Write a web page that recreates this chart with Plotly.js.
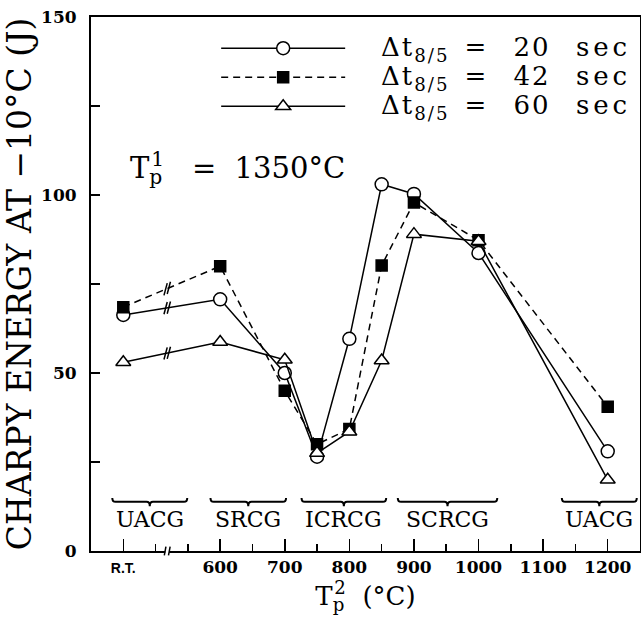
<!DOCTYPE html>
<html><head><meta charset="utf-8">
<script src="https://cdn.plot.ly/plotly-3.0.1.min.js"></script>
<style>html,body{margin:0;padding:0;background:#fff}#chart{width:641px;height:622px}</style>
</head><body><div id="chart"></div>
<script>
// Peak temperature of the second thermal cycle (450 on the axis stands for R.T.)
const temps = [450, 600, 700, 750, 800, 850, 900, 1000, 1200];
const energy20 = [66.3, 70.7, 50.0, 26.5, 59.6, 103.0, 100.3, 83.7, 28.0];
const energy42 = [68.5, 80.0, 45.0, 30.0, 34.3, 80.2, 97.9, 87.3, 40.5];
const energy60 = [53.0, 58.7, 53.7, 27.5, 33.5, 53.5, 89.0, 87.0, 20.0];
const coolingTimes = ['20', '42', '60'];
const xTickVals = [450, 600, 700, 800, 900, 1000, 1100, 1200];
const xTickText = ['<span style="font-family:Liberation Sans;font-weight:bold;font-size:14px">R.T.</span>',
  '600', '700', '800', '900', '1000', '1100', '1200'];
const xMinorVals = [500, 550, 650, 750, 850, 950, 1050, 1150];
const yTickVals = [0, 50, 100, 150];
const yMinorVals = [25, 75, 125];
const regionNames = ['UACG', 'SRCG', 'ICRCG', 'SCRCG', 'UACG'];
const regionStart = [433, 585, 726, 875, 1129];
const regionEnd = [549, 702, 857, 1029, 1245];
const axisBreak = 518;

const serif = 'DejaVu Serif, serif';
const seriesNames = coolingTimes.map(t =>
  '<span style="font-size:26px;letter-spacing:2px">\u00a0\u00a0\u00a0Δt<sub>8/5</sub>\u2002=\u2002\u00a0' + t +
  '\u2002\u00a0<span style="letter-spacing:4px">sec</span></span>');
const lineStyles = [
  {dash: 'solid', symbol: 'circle', fill: 'white', size: 13},
  {dash: '7px,5px', symbol: 'square', fill: 'black', size: 11},
  {dash: 'solid', symbol: 'triangle-up', fill: 'white', size: 13}
];
const allSeries = [energy20, energy42, energy60];

const traces = allSeries.map((ys, i) => ({
  type: 'scatter', mode: 'lines+markers', x: temps, y: ys, name: seriesNames[i],
  line: {color: 'black', width: 1.5, dash: lineStyles[i].dash},
  marker: {symbol: lineStyles[i].symbol, size: lineStyles[i].size, color: lineStyles[i].fill,
           line: {color: 'black', width: 1.5}},
  cliponaxis: false
}));

// break marks on the R.T.–600 segments, placed on each line by interpolation
const bx = [], by = [];
allSeries.forEach(ys => {
  [axisBreak - 2.5, axisBreak + 2.5].forEach(x => {
    const t = (x - temps[0]) / (temps[1] - temps[0]);
    bx.push(x); by.push(ys[0] + t * (ys[1] - ys[0]));
  });
});
traces.push({type: 'scatter', mode: 'markers', x: bx, y: by, showlegend: false, hoverinfo: 'skip',
  marker: {symbol: 'line-ns', size: 9, angle: 15, line: {color: 'black', width: 1.5}}});

const shapes = [];
const annotations = [];
regionNames.forEach((name, i) => {
  const a = regionStart[i], b = regionEnd[i], m = (a + b) / 2, w = 5;
  const yT = 14.9, yB = 13.8, yS = 12.6;
  shapes.push({type: 'path', xref: 'x', yref: 'y', layer: 'above',
    path: `M${a},${yT} Q${a},${yB} ${a + w},${yB} L${m - w},${yB} Q${m},${yB} ${m},${yS} Q${m},${yB} ${m + w},${yB} L${b - w},${yB} Q${b},${yB} ${b},${yT}`,
    line: {color: 'black', width: 2}});
  annotations.push({x: m, y: 8.8, xref: 'x', yref: 'y', text: name, showarrow: false,
    font: {family: serif, size: 22, color: 'black'}});
});
// axis break on the x axis
shapes.push({type: 'rect', xref: 'x', yref: 'paper', x0: axisBreak - 3, x1: axisBreak + 3, y0: -0.006, y1: 0.006,
  fillcolor: 'white', line: {width: 0}, layer: 'above'});
shapes.push({type: 'line', xref: 'x', yref: 'paper', x0: axisBreak - 4.5, x1: axisBreak - 2, y0: -0.008, y1: 0.008,
  line: {color: 'black', width: 1.5}, layer: 'above'});
shapes.push({type: 'line', xref: 'x', yref: 'paper', x0: axisBreak + 2, x1: axisBreak + 4.5, y0: -0.008, y1: 0.008,
  line: {color: 'black', width: 1.5}, layer: 'above'});

annotations.push({x: 0.068, y: 0.761, xref: 'paper', yref: 'paper', xanchor: 'left', showarrow: false,
  text: 'T<sub><span style="letter-spacing:-11px">p</span></sub><sup>1</sup>\u00a0\u00a0\u00a0=\u00a0\u00a01350°C',
  font: {family: serif, size: 29, color: 'black'}});

const layout = {
  width: 641, height: 622,
  margin: {l: 91, r: 1, t: 17, b: 70.5, pad: 0},
  paper_bgcolor: 'white', plot_bgcolor: 'white',
  font: {family: serif, color: 'black'},
  showlegend: true,
  legend: {x: 0.228, y: 0.978, xanchor: 'left', yanchor: 'top', bgcolor: 'rgba(0,0,0,0)',
    font: {family: serif, size: 20, color: 'black'}, itemwidth: 124, tracegroupgap: 0},
  xaxis: {
    range: [400, 1250], showgrid: false, zeroline: false,
    showline: true, linewidth: 2, linecolor: 'black', mirror: true,
    tickmode: 'array', tickvals: xTickVals, ticktext: xTickText,
    ticks: 'inside', ticklen: 12, tickwidth: 1.5, tickcolor: 'black',
    minor: {tickvals: xMinorVals, ticks: 'inside', ticklen: 7, tickwidth: 1.5, tickcolor: 'black'},
    tickfont: {family: serif, size: 17, color: 'black', weight: 'bold'},
    title: {text: 'T<sub><span style="letter-spacing:-10px">p</span></sub><sup>2</sup>\u00a0\u00a0(°C)',
      font: {family: serif, size: 26, color: 'black'}, standoff: 8},
    automargin: false
  },
  yaxis: {
    range: [0, 150], showgrid: false, zeroline: false,
    showline: true, linewidth: 2, linecolor: 'black', mirror: true,
    tickmode: 'array', tickvals: yTickVals,
    ticks: 'inside', ticklen: 9, tickwidth: 1.5, tickcolor: 'black',
    minor: {tickvals: yMinorVals, ticks: 'inside', ticklen: 9, tickwidth: 1.5, tickcolor: 'black'},
    tickfont: {family: serif, size: 17, color: 'black', weight: 'bold'},
    ticklabelstandoff: 9,
    title: {text: 'CHARPY ENERGY AT −10°C (J)', font: {family: serif, size: 33, color: 'black'}, standoff: 0},
    automargin: false
  },
  shapes: shapes,
  annotations: annotations
};

Plotly.newPlot('chart', traces, layout, {displayModeBar: false, staticPlot: true});
</script>
</body></html>
